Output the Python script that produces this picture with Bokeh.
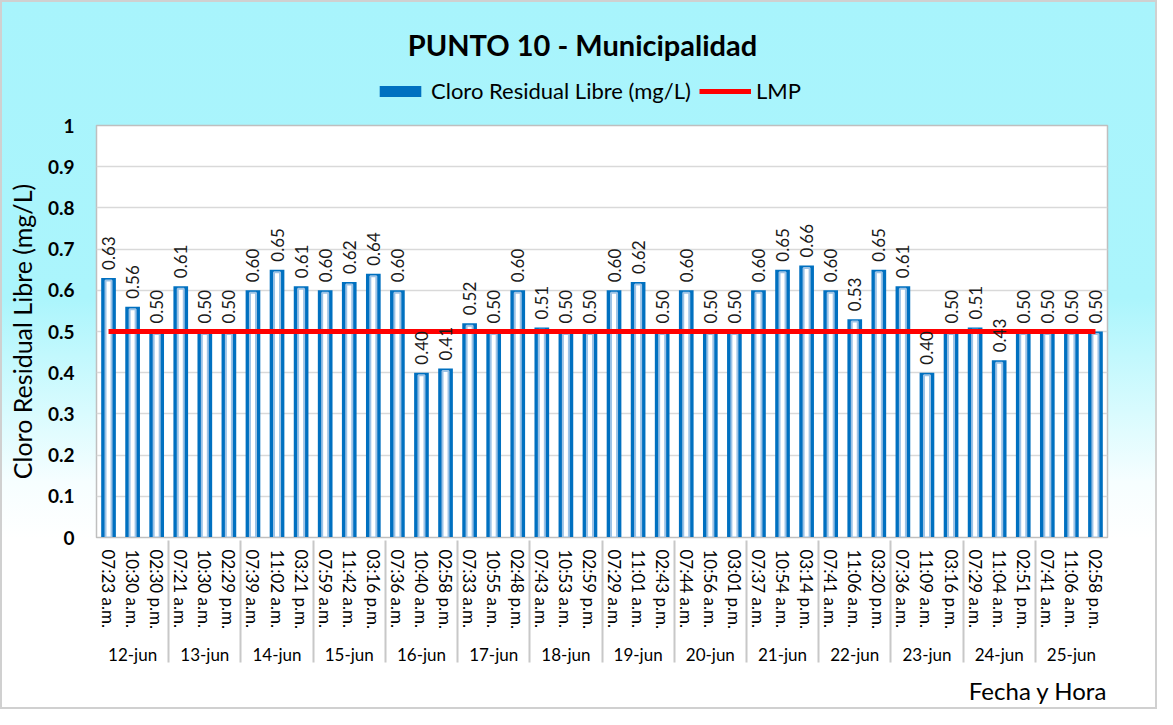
import math
from bokeh.plotting import figure
from bokeh.layouts import column
from bokeh.models import (FactorRange, ColumnDataSource, Legend, LegendItem,
                          Title, Range1d, FixedTicker, Label)
from bokeh.embed import file_html
from bokeh.resources import INLINE
from bokeh.core.properties import value

# ---------------- data ----------------
chart_title = "PUNTO 10 - Municipalidad"
series_name = "Cloro Residual Libre (mg/L)"
limit_name = "LMP"
dates = ["12-jun", "13-jun", "14-jun", "15-jun", "16-jun", "17-jun", "18-jun",
         "19-jun", "20-jun", "21-jun", "22-jun", "23-jun", "24-jun", "25-jun"]
times = [
    ["07:23 a.m.", "10:30 a.m.", "02:30 p.m."],
    ["07:21 a.m.", "10:30 a.m.", "02:29 p.m."],
    ["07:39 a.m.", "11:02 a.m.", "03:21 p.m."],
    ["07:59 a.m.", "11:42 a.m.", "03:16 p.m."],
    ["07:36 a.m.", "10:40 a.m.", "02:58 p.m."],
    ["07:33 a.m.", "10:55 a.m.", "02:48 p.m."],
    ["07:43 a.m.", "10:53 a.m.", "02:59 p.m."],
    ["07:29 a.m.", "11:01 a.m.", "02:43 p.m."],
    ["07:44 a.m.", "10:56 a.m.", "03:01 p.m."],
    ["07:37 a.m.", "10:54 a.m.", "03:14 p.m."],
    ["07:41 a.m.", "11:06 a.m.", "03:20 p.m."],
    ["07:36 a.m.", "11:09 a.m.", "03:16 p.m."],
    ["07:29 a.m.", "11:04 a.m.", "02:51 p.m."],
    ["07:41 a.m.", "11:06 a.m.", "02:58 p.m."],
]
cloro = [
    [0.63, 0.56, 0.50],
    [0.61, 0.50, 0.50],
    [0.60, 0.65, 0.61],
    [0.60, 0.62, 0.64],
    [0.60, 0.40, 0.41],
    [0.52, 0.50, 0.60],
    [0.51, 0.50, 0.50],
    [0.60, 0.62, 0.50],
    [0.60, 0.50, 0.50],
    [0.60, 0.65, 0.66],
    [0.60, 0.53, 0.65],
    [0.61, 0.40, 0.50],
    [0.51, 0.43, 0.50],
    [0.50, 0.50, 0.50],
]
lmp_value = 0.5
y_ticks = [0, 0.1, 0.2, 0.3, 0.4, 0.5, 0.6, 0.7, 0.8, 0.9, 1]
y_tick_labels = ["0", "0.1", "0.2", "0.3", "0.4", "0.5", "0.6", "0.7", "0.8", "0.9", "1"]

# ---------------- build ----------------
FONT = "Lato"
BLUE = "#0070c0"
RED = "#ff0000"
W = 1157
HEAD_H = 115
MAIN_H = 594
FRAME_L = 96
FRAME_R = 1107

factors = [(d, t) for d, ts in zip(dates, times) for t in ts]
vals = [v for vs in cloro for v in vs]
src = ColumnDataSource(dict(
    x=factors,
    y=vals,
    inner=[v - 0.006 for v in vals],
    label=[f"{v:.2f}" for v in vals],
    lmp=[lmp_value] * len(vals),
))

# ---- header: title + legend ----
head = figure(width=W, height=HEAD_H, x_range=Range1d(FRAME_L, FRAME_R),
              y_range=Range1d(0, HEAD_H),
              output_backend="svg", toolbar_location=None, title=None,
              min_border=0, min_border_left=0, min_border_right=0,
              min_border_top=0, min_border_bottom=0)
head.axis.visible = False
head.grid.visible = False
head.outline_line_color = None
head.background_fill_alpha = 0
head.border_fill_alpha = 0

head.add_layout(Label(x=582, y=HEAD_H - 44, text=chart_title,
                      text_align="center", text_baseline="middle",
                      text_font=FONT, text_font_size="29px",
                      text_font_style="bold", text_color="black"))

proxy_bar = head.vbar(x=[-100], top=[-100], width=1, fill_color=BLUE, line_color=None)
proxy_line = head.line(x=[-100, -90], y=[-100, -100], line_color=RED, line_width=5)
legend = Legend(items=[
    LegendItem(label=series_name, renderers=[proxy_bar]),
    LegendItem(label=limit_name, renderers=[proxy_line]),
], orientation="horizontal", location=(278, 11))
legend.background_fill_alpha = 0
legend.border_line_alpha = 0
legend.label_text_font = FONT
legend.label_text_font_size = "22px"
legend.label_text_color = "black"
legend.glyph_width = 52
legend.glyph_height = 14
legend.spacing = 8
legend.padding = 0
legend.margin = 0
legend.label_standoff = 5
head.add_layout(legend, "center")

# ---- main chart ----
p = figure(
    x_range=FactorRange(factors=factors, factor_padding=0, group_padding=0,
                        subgroup_padding=0, range_padding=0),
    y_range=Range1d(0, 1),
    width=W, height=MAIN_H, title=None,
    output_backend="svg", toolbar_location=None,
    min_border_left=FRAME_L, min_border_right=W - FRAME_R,
    min_border_top=10, min_border_bottom=10,
)
p.border_fill_alpha = 0
p.background_fill_color = "white"
p.outline_line_color = "#bfbfbf"
p.outline_line_width = 1.5

# bars
p.vbar(x="x", top="y", width=0.61, source=src, fill_color=BLUE, line_color=None)
p.vbar(x="x", top="inner", width=0.25, source=src, fill_color="white",
       line_color="#9dc3e6", line_width=2)

# LMP line
p.line(x="x", y="lmp", source=src, line_color=RED, line_width=5)

# value labels
p.text(x="x", y="y", text="label", source=src, angle=math.pi / 2,
       text_align="left", text_baseline="middle", y_offset=-8,
       text_font=value(FONT), text_font_size="17px", text_color="#1a1a1a")

# y axis
p.yaxis.ticker = FixedTicker(ticks=y_ticks)
p.yaxis.major_label_overrides = {t: l for t, l in zip(y_ticks, y_tick_labels)}
p.yaxis.major_label_text_font = FONT
p.yaxis.major_label_text_font_style = "bold"
p.yaxis.major_label_text_font_size = "19px"
p.yaxis.major_label_text_color = "black"
p.yaxis.major_label_standoff = 22
p.yaxis.axis_line_color = None
p.yaxis.major_tick_line_color = None
p.yaxis.minor_tick_line_color = None
p.yaxis.major_tick_out = 0
p.yaxis.major_tick_in = 0
p.yaxis.axis_label = series_name
p.yaxis.axis_label_text_font = FONT
p.yaxis.axis_label_text_font_style = "normal"
p.yaxis.axis_label_text_font_size = "25px"
p.yaxis.axis_label_text_color = "black"
p.yaxis.axis_label_standoff = 8

p.ygrid.grid_line_color = "#d9d9d9"
p.ygrid.grid_line_width = 1.5
p.xgrid.grid_line_color = None

# x axis
xa = p.xaxis[0]
xa.major_label_orientation = "vertical"
xa.major_label_text_font = FONT
xa.major_label_text_font_size = "17px"
xa.major_label_text_color = "black"
xa.major_label_standoff = 12
xa.group_text_font = FONT
xa.group_text_font_size = "17px"
xa.group_text_font_style = "normal"
xa.group_text_color = "black"
xa.group_label_orientation = "horizontal"
xa.separator_line_color = "#c8c8c8"
xa.separator_line_width = 2
xa.axis_line_color = "#bfbfbf"
xa.major_tick_line_color = None
xa.minor_tick_line_color = None
xa.major_tick_out = 0
xa.major_tick_in = 0

p.add_layout(Title(text="Fecha y Hora", align="right", text_font=FONT,
                   text_font_size="24px", text_font_style="normal",
                   text_color="black", offset=0), "below")

layout = column(head, p, spacing=0, styles={
    "background": "linear-gradient(to bottom, #a8f4fc 0%, #abf5fc 42%, #d8fbfe 58%, #f6feff 68%, #ffffff 76%)",
    "box-shadow": "inset 0 0 0 2px #d0d0d0",
})

open("out.html", "w").write(file_html(layout, INLINE))
